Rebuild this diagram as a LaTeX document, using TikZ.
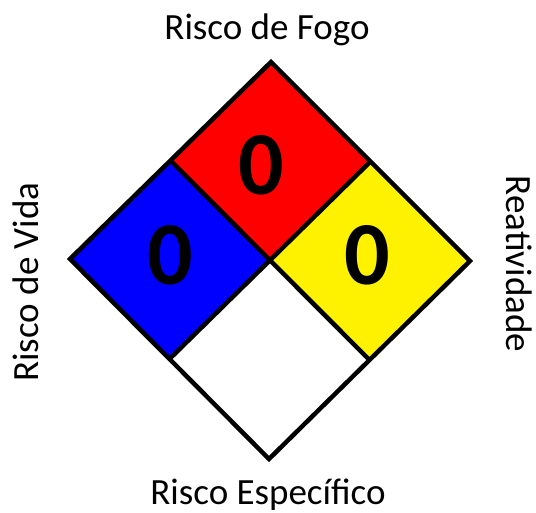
\documentclass[tikz,border=0pt]{standalone}
\usepackage{fontspec}
\setmainfont{Carlito}
\usetikzlibrary{calc}
\begin{document}
\begin{tikzpicture}[x=1pt,y=-1pt,
  edge/.style={draw=black,line width=4.5pt,line join=miter},
  digit/.style={font=\fontsize{90}{90}\selectfont\bfseries,inner sep=0pt,text=black},
  lab/.style={font=\fontsize{37}{39}\selectfont,inner sep=0pt,anchor=base}]
\useasboundingbox (0,0) rectangle (536,512);
\coordinate (T) at (271,62);
\coordinate (L) at (70,259);
\coordinate (R) at (470,261);
\coordinate (B) at (269,459);
\coordinate (C) at (270,260);
\coordinate (TL) at ($(T)!0.5!(L)$);
\coordinate (TR) at ($(T)!0.5!(R)$);
\coordinate (BL) at ($(B)!0.5!(L)$);
\coordinate (BR) at ($(B)!0.5!(R)$);
\fill[red] (T) -- (TR) -- (C) -- (TL) -- cycle;
\fill[blue] (TL) -- (C) -- (BL) -- (L) -- cycle;
\fill[yellow] (TR) -- (R) -- (BR) -- (C) -- cycle;
\fill[white] (C) -- (BR) -- (B) -- (BL) -- cycle;
\draw[edge] (T) -- (R) -- (B) -- (L) -- cycle;
\draw[edge] (TL) -- (BR);
\draw[edge] (TR) -- (BL);
\node[digit] (fire) at (261,165) {0};
\node[digit] (health) at (170,255) {0};
\node[digit] (react) at (367,255) {0};
\node[lab] (top) at (267,39) {Risco de Fogo};
\node[lab] (bottom) at (268,504) {Risco Específico};
\node[lab,rotate=90] (left) at (38,282) {Risco de Vida};
\node[lab,rotate=-90] (right) at (506,264) {Reatividade};
\end{tikzpicture}
\end{document}
